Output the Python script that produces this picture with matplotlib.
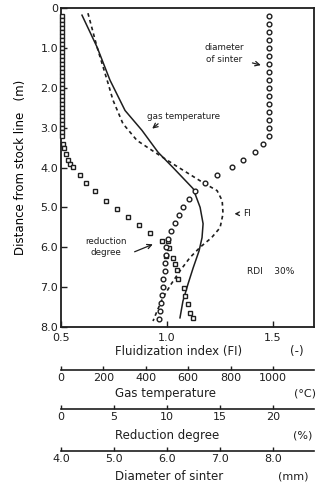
import matplotlib
matplotlib.use("Agg")
import matplotlib.pyplot as plt
from matplotlib.ticker import FormatStrFormatter

# depth from stock line (m) for each series
fi_depth = [0.13, 0.98, 1.89, 2.31, 2.9, 3.32, 3.62, 3.95, 4.38, 4.58, 4.83, 5.16,
            5.51, 5.76, 6.0, 6.26, 6.6, 6.92, 7.27, 7.6, 7.85]
fi_val = [0.627, 0.67, 0.722, 0.745, 0.792, 0.858, 0.943, 1.04, 1.17, 1.236, 1.26, 1.264,
          1.25, 1.21, 1.156, 1.108, 1.06, 1.02, 0.98, 0.953, 0.934]

gas_depth = [0.18, 0.98, 1.81, 2.57, 3.07, 3.62, 4.0, 4.53, 5.0, 5.41, 5.76, 6.09,
             6.52, 6.92, 7.35, 7.77]
gas_temp = [99, 170, 231, 302, 382, 458, 528, 623, 656, 670, 665, 651,
            623, 599, 575, 561]

red_depth = [0.2, 0.3, 0.4, 0.5, 0.6, 0.7, 0.8, 0.9, 1.0, 1.1, 1.2, 1.3, 1.4, 1.5, 1.6,
             1.7, 1.8, 1.9, 2.0, 2.1, 2.2, 2.3, 2.4, 2.5, 2.6, 2.7, 2.8, 2.9, 3.0, 3.1,
             3.2, 3.4, 3.5, 3.65, 3.8, 3.9, 4.0, 4.2, 4.4, 4.6, 4.85, 5.05, 5.25, 5.45,
             5.65, 5.84, 5.84, 6.01, 6.21, 6.26, 6.42, 6.57, 6.79, 7.02, 7.22, 7.42,
             7.65, 7.77]
red_val = [0.05, 0.05, 0.05, 0.05, 0.05, 0.05, 0.05, 0.05, 0.05, 0.05, 0.05, 0.05, 0.05,
           0.05, 0.05, 0.05, 0.05, 0.05, 0.05, 0.05, 0.05, 0.05, 0.05, 0.05, 0.05, 0.05,
           0.05, 0.05, 0.05, 0.05,
           0.1, 0.2, 0.3, 0.5, 0.7, 0.85, 1.1, 1.8, 2.4, 3.2, 4.25, 5.3, 6.3, 7.4,
           8.4, 9.5, 10.1, 10.2, 9.9, 10.6, 10.75, 10.9, 11.0, 11.6, 11.7, 12.0,
           12.2, 12.45]

dia_depth = [0.2, 0.4, 0.6, 0.8, 1.0, 1.2, 1.4, 1.6, 1.8, 2.0, 2.2, 2.4, 2.6, 2.8, 3.0,
             3.2, 3.4, 3.6, 3.8, 4.0, 4.2, 4.4, 4.6, 4.8, 5.0, 5.2, 5.4, 5.6, 5.8, 6.0,
             6.2, 6.4, 6.6, 6.8, 7.0, 7.2, 7.4, 7.6, 7.8]
dia_val = [7.92, 7.92, 7.92, 7.92, 7.92, 7.92, 7.92, 7.92, 7.92, 7.92, 7.92, 7.92, 7.92,
           7.92, 7.92, 7.92, 7.81, 7.66, 7.43, 7.23, 6.94, 6.72, 6.53, 6.42, 6.30, 6.23,
           6.15, 6.08, 6.02, 5.98, 5.98, 5.96, 5.96, 5.92, 5.92, 5.91, 5.89, 5.87, 5.85]

depth_ticks = [0, 1, 2, 3, 4, 5, 6, 7, 8]
depth_labels = ["0", "1.0", "2.0", "3.0", "4.0", "5.0", "6.0", "7.0", "8.0"]
fi_ticks = [0.5, 1.0, 1.5]
temp_ticks = [0, 200, 400, 600, 800, 1000]
red_ticks = [0, 5, 10, 15, 20]
dia_ticks = [4.0, 5.0, 6.0, 7.0, 8.0]

INK = "#1e1e1e"
FI_MAX = 1.693

plt.rcParams["font.family"] = ["DejaVu Sans"]
plt.rcParams["font.size"] = 8

fig = plt.figure(figsize=(3.16, 4.88), dpi=100)
ax = fig.add_axes([61 / 316, 1 - 327 / 488, 253 / 316, 319 / 488])
ax.set_xlim(0.5, FI_MAX)
ax.set_ylim(8.0, 0.0)
for s in ax.spines.values():
    s.set_linewidth(1.3)
    s.set_color(INK)

ax.set_yticks(depth_ticks)
ax.set_yticklabels(depth_labels)
ax.set_xticks(fi_ticks)
ax.set_xticklabels(["0.5", "1.0", "1.5"])
ax.tick_params(direction="in", length=4, width=1, colors=INK, labelsize=8, pad=2)
ax.tick_params(axis="x", pad=4)
ax.set_ylabel("Distance from stock line   (m)", fontsize=8.5, labelpad=10)

# each series on its own twin x scale, aligned with the scales below
def fi_to_temp(x):
    return (x - 0.5) * 1000

def temp_to_fi(t):
    return t / 1000 + 0.5

def fi_to_red(x):
    return (x - 0.5) * 20

def red_to_fi(r):
    return r / 20 + 0.5

def fi_to_dia(x):
    return (x - 0.5) * 4 + 4

def dia_to_fi(d):
    return (d - 4) / 4 + 0.5

ax_t = ax.twiny()
ax_t.set_xlim(fi_to_temp(0.5), fi_to_temp(FI_MAX))
ax_t.axis("off")
ax_r = ax.twiny()
ax_r.set_xlim(fi_to_red(0.5), fi_to_red(FI_MAX))
ax_r.axis("off")
ax_d = ax.twiny()
ax_d.set_xlim(fi_to_dia(0.5), fi_to_dia(FI_MAX))
ax_d.axis("off")

ax_d.plot(dia_val, dia_depth, "o", ms=3.4, mfc="white", mec=INK, mew=1.0, clip_on=False)
ax_r.plot(red_val, red_depth, "s", ms=3.2, mfc="white", mec=INK, mew=1.0, clip_on=False)
ax_t.plot(gas_temp, gas_depth, "-", color=INK, lw=1.1)
ax.plot(fi_val, fi_depth, color=INK, lw=1.2, ls=(0, (2.2, 2.0)))

# annotations
ax.text(1.27, 1.15, "diameter\nof sinter", ha="center", va="center", fontsize=6.3,
        linespacing=1.4, color=INK)
ax.annotate("", xy=(1.455, 1.45), xytext=(1.39, 1.36),
            arrowprops=dict(arrowstyle="->", color=INK, lw=0.9))
ax.text(0.905, 2.72, "gas temperature", ha="left", va="center", fontsize=6.3, color=INK)
ax.annotate("", xy=(0.92, 3.07), xytext=(0.968, 2.86),
            arrowprops=dict(arrowstyle="->", color=INK, lw=0.9))
ax.annotate("FI", xy=(1.305, 5.16), xytext=(1.36, 5.16), fontsize=6.5, va="center",
            color=INK, arrowprops=dict(arrowstyle="->", color=INK, lw=0.9))
ax.text(0.712, 6.0, "reduction\ndegree", ha="center", va="center", fontsize=6.3,
        linespacing=1.3, color=INK)
ax.annotate("", xy=(0.945, 5.9), xytext=(0.835, 6.14),
            arrowprops=dict(arrowstyle="->", color=INK, lw=0.9))
ax.text(1.377, 6.62, "RDI    30%", ha="left", va="center", fontsize=6.5, color=INK)

# extra scales under the plot
def add_scale(ypos, funcs, ticks, fmt):
    sec = ax.secondary_xaxis(ypos, functions=funcs)
    sec.set_xticks(ticks)
    sec.xaxis.set_major_formatter(FormatStrFormatter(fmt))
    sec.tick_params(direction="in", length=3, width=1, colors=INK, labelsize=8, pad=2)
    sec.spines["bottom"].set_linewidth(1.2)
    sec.spines["bottom"].set_color(INK)
    return sec

add_scale(-0.135, (fi_to_temp, temp_to_fi), temp_ticks, "%d")
add_scale(-0.257, (fi_to_red, red_to_fi), red_ticks, "%d")
add_scale(-0.389, (fi_to_dia, dia_to_fi), dia_ticks, "%.1f")

label_x = (115 - 61) / 253
ax.text(label_x, -0.078, "Fluidization index (FI)", transform=ax.transAxes,
        ha="left", va="center", fontsize=8.5, color=INK)
ax.text(0.933, -0.078, "(-)", transform=ax.transAxes, ha="center", va="center",
        fontsize=8.5, color=INK)
ax.text(label_x, -0.207, "Gas temperature", transform=ax.transAxes,
        ha="left", va="center", fontsize=8.5, color=INK)
ax.text(0.964, -0.207, "(°C)", transform=ax.transAxes, ha="center", va="center",
        fontsize=8, color=INK)
ax.text(label_x, -0.339, "Reduction degree", transform=ax.transAxes,
        ha="left", va="center", fontsize=8.5, color=INK)
ax.text(0.957, -0.339, "(%)", transform=ax.transAxes, ha="center", va="center",
        fontsize=8, color=INK)
ax.text(label_x, -0.470, "Diameter of sinter", transform=ax.transAxes,
        ha="left", va="center", fontsize=8.5, color=INK)
ax.text(0.917, -0.470, "(mm)", transform=ax.transAxes, ha="center", va="center",
        fontsize=8, color=INK)

fig.savefig("out.png", dpi=100)
